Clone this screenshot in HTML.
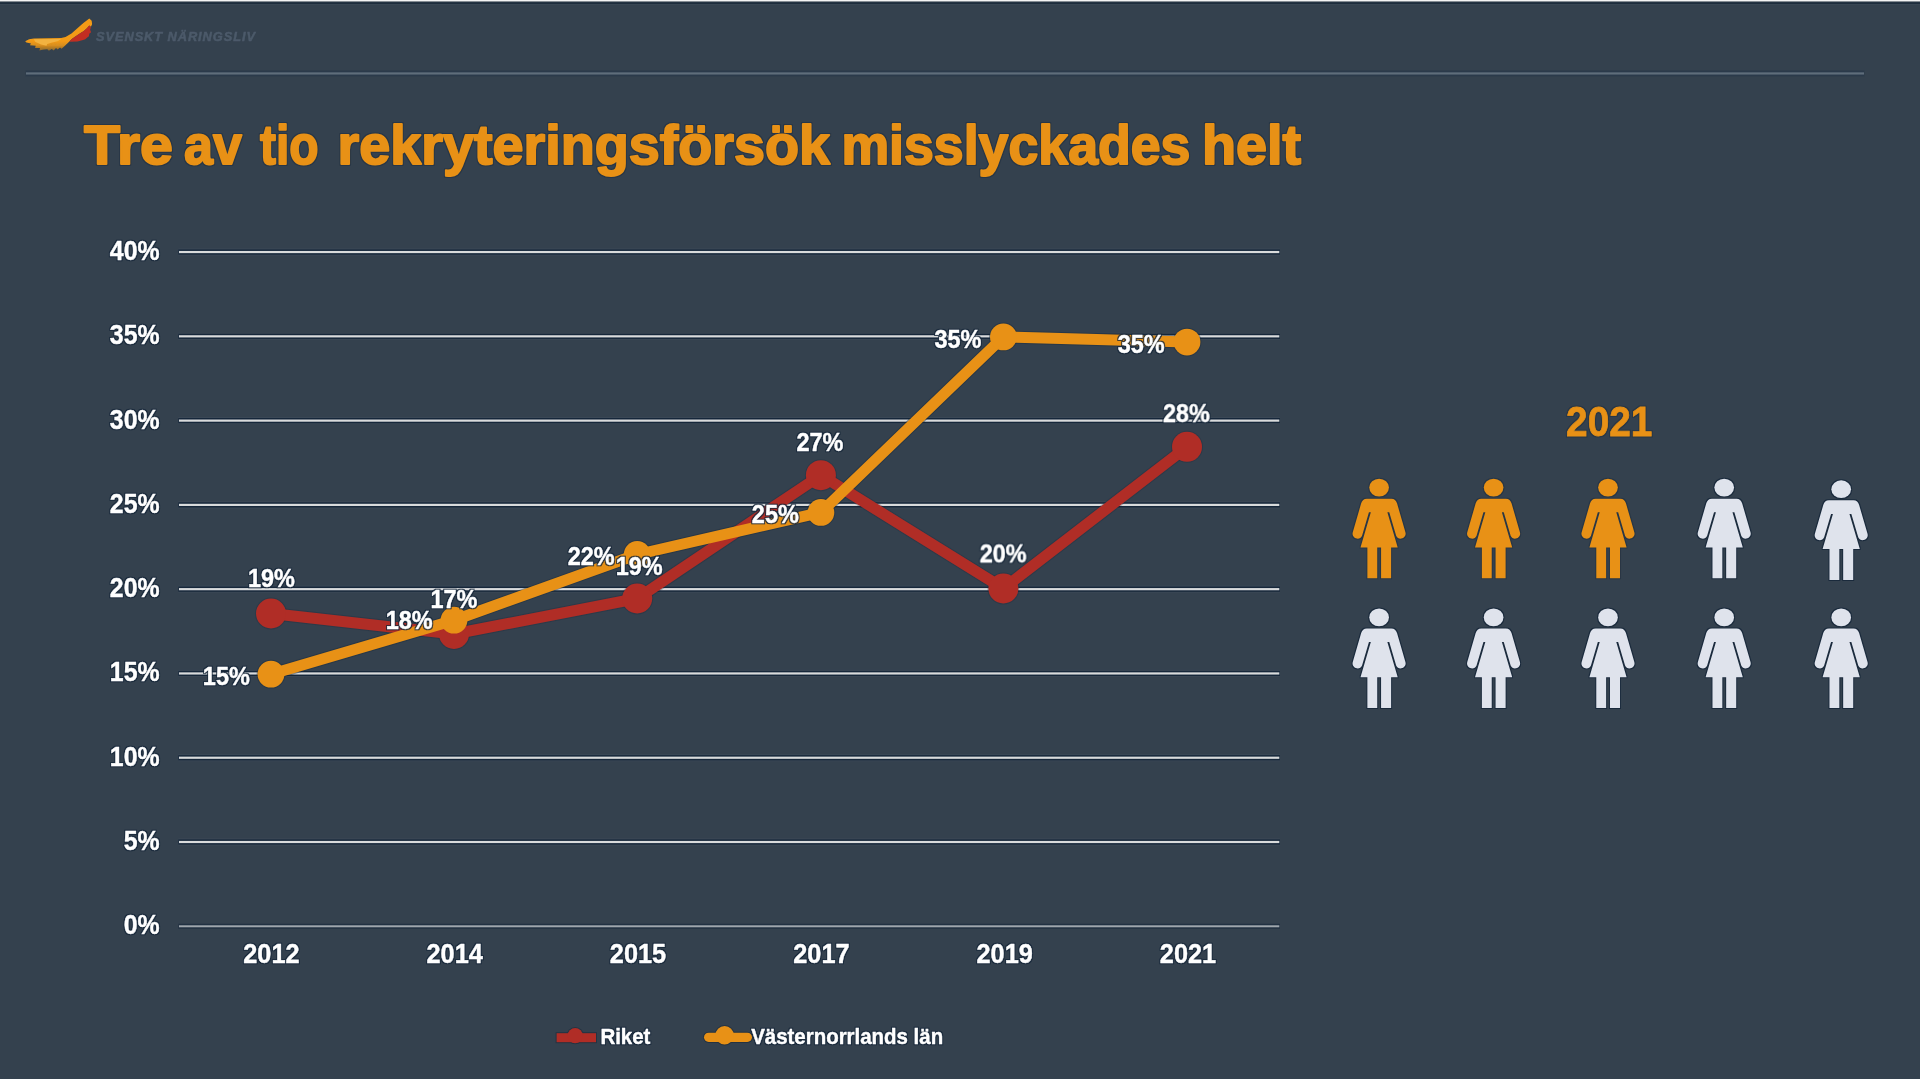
<!DOCTYPE html>
<html lang="sv">
<head>
<meta charset="utf-8">
<title>Tre av tio rekryteringsförsök misslyckades helt</title>
<style>
html,body{margin:0;padding:0;background:#34414e;}
body{width:1920px;height:1079px;overflow:hidden;position:relative;}
svg{position:absolute;left:0;top:0;display:block;will-change:transform;}
text{font-family:"Liberation Sans",Arial,Helvetica,sans-serif;font-weight:bold;}
</style>
</head>
<body>
<svg width="1920" height="1079" viewBox="0 0 1920 1079">
<rect x="0" y="0" width="1920" height="1079" fill="#34414e"/>
<!-- top edge -->
<rect x="0" y="0" width="1920" height="1.4" fill="#f4f4f4"/>
<rect x="0" y="1.4" width="1920" height="0.8" fill="#8a9097"/>
<rect x="0" y="2.2" width="1920" height="1.9" fill="#1e2d3d"/>
<rect x="0" y="4.1" width="1920" height="1" fill="#3a4755"/>

<defs>
<filter id="halo" x="-10%" y="-30%" width="120%" height="160%" color-interpolation-filters="sRGB">
<feMorphology in="SourceAlpha" operator="dilate" radius="1.1" result="d"/>
<feGaussianBlur in="d" stdDeviation="0.6" result="b"/>
<feFlood flood-color="#16273a" flood-opacity="0.85"/>
<feComposite in2="b" operator="in" result="h"/>
<feMerge><feMergeNode in="h"/><feMergeNode in="SourceGraphic"/></feMerge>
</filter>
<filter id="halo-mid" x="-10%" y="-30%" width="120%" height="160%" color-interpolation-filters="sRGB">
<feMorphology in="SourceAlpha" operator="dilate" radius="0.9" result="d"/>
<feGaussianBlur in="d" stdDeviation="0.5" result="b"/>
<feFlood flood-color="#1b2c3e" flood-opacity="0.5"/>
<feComposite in2="b" operator="in" result="h"/>
<feMerge><feMergeNode in="h"/><feMergeNode in="SourceGraphic"/></feMerge>
</filter>
<linearGradient id="wing" gradientUnits="userSpaceOnUse" x1="0" y1="41" x2="0" y2="51"><stop offset="0" stop-color="#f39b14"/><stop offset="0.45" stop-color="#f39b14" stop-opacity="0.85"/><stop offset="1" stop-color="#e8920f" stop-opacity="0.45"/></linearGradient>
<filter id="soft" x="-10%" y="-10%" width="120%" height="120%"><feGaussianBlur stdDeviation="0.55"/></filter>
</defs>
<!-- logo -->
<g id="logo" filter="url(#soft)">
<path d="M25.2 41.3 L29.1 39.3 L33.9 38.5 L61.2 38.1 L65.5 37.0 L71.5 33.4 L77.4 28.3 L83.4 23.1 L89.3 18.4 L91.7 20.7 L92.1 24.3 L90.9 26.7 L89.3 25.5 L86.9 28.3 L83.8 31.0 L79.4 33.8 L74.6 37.0 L71.5 39.3 L69.1 41.7 L65.5 45.3 L61.6 48.8 L60.0 47.4 L57.6 49.6 L56.0 48.1 L53.7 50.6 L51.7 48.9 L48.9 50.8 L47.3 49.3 L42.6 49.7 L39.4 50.4 L40.0 48.1 L35.1 48.0 L35.7 45.7 L29.9 45.3 L31.0 43.4 L26.4 42.6 Z" fill="url(#wing)"/>
<path d="M33.9 39.3 L61.2 38.9 L57.6 41.3 L52.1 42.5 L47.3 44.1 L46.5 45.7 L41.0 44.5 L35.1 41.7 Z" fill="#f2b23f"/>
<path d="M69.1 41.8 L71.5 39.3 L74.6 37.0 L79.4 33.8 L83.8 31.0 L86.9 28.3 L89.3 25.5 L90.9 27.5 L90.1 29.8 L91.1 32.2 L89.3 33.8 L88.9 36.2 L86.9 37.8 L85.3 39.3 L82.2 40.2 L77.4 41.4 Z" fill="#c22f22"/>
</g>
<text x="96" y="40.7" font-size="12.8" font-style="italic" fill="#4c5a6a" stroke="#4c5a6a" stroke-width="0.5" textLength="159" lengthAdjust="spacing">SVENSKT NÄRINGSLIV</text>

<!-- header rule -->
<rect x="25.6" y="70.5" width="1838.8" height="5.9" fill="#2b3a4b"/>
<rect x="26" y="72.35" width="1838" height="2.2" fill="#5f6d7b"/>

<g id="title" font-size="56.3" fill="#e89116" stroke="#e89116" stroke-width="2" stroke-linejoin="round" filter="url(#halo-mid)">
<text x="84.00" y="163.6" textLength="88.93" lengthAdjust="spacingAndGlyphs">Tre</text>
<text x="184.00" y="163.6" textLength="57.93" lengthAdjust="spacingAndGlyphs">av</text>
<text x="260.00" y="163.6" textLength="58.56" lengthAdjust="spacingAndGlyphs">tio</text>
<text x="337.50" y="163.6" textLength="492.62" lengthAdjust="spacingAndGlyphs">rekryteringsförsök</text>
<text x="841.40" y="163.6" textLength="349.05" lengthAdjust="spacingAndGlyphs">misslyckades</text>
<text x="1201.90" y="163.6" textLength="99.12" lengthAdjust="spacingAndGlyphs">helt</text>
</g>
<g id="grid">
<rect x="178.4" y="248.45" width="1101.5" height="7.2" fill="#3b4856"/>
<rect x="178.4" y="249.45" width="1101.5" height="5.2" fill="#16273a"/>
<rect x="179" y="250.95" width="1100.3" height="2.2" fill="#d9dbdc"/>
<rect x="178.4" y="332.73" width="1101.5" height="7.2" fill="#3b4856"/>
<rect x="178.4" y="333.73" width="1101.5" height="5.2" fill="#16273a"/>
<rect x="179" y="335.23" width="1100.3" height="2.2" fill="#d9dbdc"/>
<rect x="178.4" y="417.01" width="1101.5" height="7.2" fill="#3b4856"/>
<rect x="178.4" y="418.01" width="1101.5" height="5.2" fill="#16273a"/>
<rect x="179" y="419.51" width="1100.3" height="2.2" fill="#d9dbdc"/>
<rect x="178.4" y="501.29" width="1101.5" height="7.2" fill="#3b4856"/>
<rect x="178.4" y="502.29" width="1101.5" height="5.2" fill="#16273a"/>
<rect x="179" y="503.79" width="1100.3" height="2.2" fill="#d9dbdc"/>
<rect x="178.4" y="585.57" width="1101.5" height="7.2" fill="#3b4856"/>
<rect x="178.4" y="586.57" width="1101.5" height="5.2" fill="#16273a"/>
<rect x="179" y="588.07" width="1100.3" height="2.2" fill="#d9dbdc"/>
<rect x="178.4" y="669.85" width="1101.5" height="7.2" fill="#3b4856"/>
<rect x="178.4" y="670.85" width="1101.5" height="5.2" fill="#16273a"/>
<rect x="179" y="672.35" width="1100.3" height="2.2" fill="#d9dbdc"/>
<rect x="178.4" y="754.13" width="1101.5" height="7.2" fill="#3b4856"/>
<rect x="178.4" y="755.13" width="1101.5" height="5.2" fill="#16273a"/>
<rect x="179" y="756.63" width="1100.3" height="2.2" fill="#d9dbdc"/>
<rect x="178.4" y="838.41" width="1101.5" height="7.2" fill="#3b4856"/>
<rect x="178.4" y="839.41" width="1101.5" height="5.2" fill="#16273a"/>
<rect x="179" y="840.91" width="1100.3" height="2.2" fill="#d9dbdc"/>
<rect x="178.4" y="923.79" width="1101.5" height="5.0" fill="#16273a" opacity="0.6"/>
<rect x="179" y="925.29" width="1100.3" height="2.0" fill="#9fa6ad"/>
</g>
<g id="ylabels" font-size="27.4" fill="#ffffff" filter="url(#halo)" stroke="#ffffff" stroke-width="0.45">
<text transform="translate(159.6 259.9) scale(0.908 1)" text-anchor="end">40%</text>
<text transform="translate(159.6 344.2) scale(0.908 1)" text-anchor="end">35%</text>
<text transform="translate(159.6 428.5) scale(0.908 1)" text-anchor="end">30%</text>
<text transform="translate(159.6 512.8) scale(0.908 1)" text-anchor="end">25%</text>
<text transform="translate(159.6 597.1) scale(0.908 1)" text-anchor="end">20%</text>
<text transform="translate(159.6 681.4) scale(0.908 1)" text-anchor="end">15%</text>
<text transform="translate(159.6 765.6) scale(0.908 1)" text-anchor="end">10%</text>
<text transform="translate(159.6 849.9) scale(0.908 1)" text-anchor="end">5%</text>
<text transform="translate(159.6 934.2) scale(0.908 1)" text-anchor="end">0%</text>
</g>
<g id="xlabels" font-size="27.4" fill="#ffffff" filter="url(#halo)" stroke="#ffffff" stroke-width="0.45">
<text transform="translate(271.4 962.5) scale(0.925 1)" text-anchor="middle">2012</text>
<text transform="translate(454.7 962.5) scale(0.925 1)" text-anchor="middle">2014</text>
<text transform="translate(638.0 962.5) scale(0.925 1)" text-anchor="middle">2015</text>
<text transform="translate(821.4 962.5) scale(0.925 1)" text-anchor="middle">2017</text>
<text transform="translate(1004.7 962.5) scale(0.925 1)" text-anchor="middle">2019</text>
<text transform="translate(1188.0 962.5) scale(0.925 1)" text-anchor="middle">2021</text>
</g>
<g id="series-halo" fill="#1b2c3e" stroke="#1b2c3e">
<polyline points="271.0,613.5 454.0,634.0 637.2,598.5 820.9,475.2 1003.4,588.5 1187.0,446.8" fill="none" stroke-width="13" stroke-linejoin="round" stroke-linecap="round" opacity="0.3"/>
<circle cx="271.0" cy="613.5" r="16" stroke="none" opacity="0.3"/>
<circle cx="454.0" cy="634.0" r="16" stroke="none" opacity="0.3"/>
<circle cx="637.2" cy="598.5" r="16" stroke="none" opacity="0.3"/>
<circle cx="820.9" cy="475.2" r="16" stroke="none" opacity="0.3"/>
<circle cx="1003.4" cy="588.5" r="16" stroke="none" opacity="0.3"/>
<circle cx="1187.0" cy="446.8" r="16" stroke="none" opacity="0.3"/>
<polyline points="271.0,674.2 454.0,620.2 637.2,554.5 820.9,512.4 1003.4,336.9 1187.0,342.1" fill="none" stroke-width="13" stroke-linejoin="round" stroke-linecap="round" opacity="0.45"/>
<circle cx="271.0" cy="674.2" r="14.4" stroke="none" opacity="0.45"/>
<circle cx="454.0" cy="620.2" r="14.4" stroke="none" opacity="0.45"/>
<circle cx="637.2" cy="554.5" r="14.4" stroke="none" opacity="0.45"/>
<circle cx="820.9" cy="512.4" r="14.4" stroke="none" opacity="0.45"/>
<circle cx="1003.4" cy="336.9" r="14.4" stroke="none" opacity="0.45"/>
<circle cx="1187.0" cy="342.1" r="14.4" stroke="none" opacity="0.45"/>
</g>
<g id="series-riket">
<polyline points="271.0,613.5 454.0,634.0 637.2,598.5 820.9,475.2 1003.4,588.5 1187.0,446.8" fill="none" stroke="#b02d26" stroke-width="11" stroke-linejoin="round" stroke-linecap="round"/>
<circle cx="271.0" cy="613.5" r="15" fill="#b02d26"/>
<circle cx="454.0" cy="634.0" r="15" fill="#b02d26"/>
<circle cx="637.2" cy="598.5" r="15" fill="#b02d26"/>
<circle cx="820.9" cy="475.2" r="15" fill="#b02d26"/>
<circle cx="1003.4" cy="588.5" r="15" fill="#b02d26"/>
<circle cx="1187.0" cy="446.8" r="15" fill="#b02d26"/>
</g>
<g id="series-vasternorrland">
<polyline points="271.0,674.2 454.0,620.2 637.2,554.5 820.9,512.4 1003.4,336.9 1187.0,342.1" fill="none" stroke="#e89116" stroke-width="11" stroke-linejoin="round" stroke-linecap="round"/>
<circle cx="271.0" cy="674.2" r="13.4" fill="#e89116"/>
<circle cx="454.0" cy="620.2" r="13.4" fill="#e89116"/>
<circle cx="637.2" cy="554.5" r="13.4" fill="#e89116"/>
<circle cx="820.9" cy="512.4" r="13.4" fill="#e89116"/>
<circle cx="1003.4" cy="336.9" r="13.4" fill="#e89116"/>
<circle cx="1187.0" cy="342.1" r="13.4" fill="#e89116"/>
</g>
<g id="datalabels" font-size="25.1" fill="#ffffff" filter="url(#halo)" stroke="#ffffff" stroke-width="0.45">
<text transform="translate(271.5 586.9) scale(0.935 1)" text-anchor="middle">19%</text>
<text transform="translate(226.3 684.9) scale(0.935 1)" text-anchor="middle">15%</text>
<text transform="translate(409.2 629.4) scale(0.935 1)" text-anchor="middle">18%</text>
<text transform="translate(453.9 607.9) scale(0.935 1)" text-anchor="middle">17%</text>
<text transform="translate(591.2 564.8) scale(0.935 1)" text-anchor="middle">22%</text>
<text transform="translate(639.1 574.5) scale(0.935 1)" text-anchor="middle">19%</text>
<text transform="translate(820.0 451.1) scale(0.935 1)" text-anchor="middle">27%</text>
<text transform="translate(775.3 523.4) scale(0.935 1)" text-anchor="middle">25%</text>
<text transform="translate(958.0 347.7) scale(0.935 1)" text-anchor="middle">35%</text>
<text transform="translate(1003.1 562.4) scale(0.935 1)" text-anchor="middle">20%</text>
<text transform="translate(1141.2 352.7) scale(0.935 1)" text-anchor="middle">35%</text>
<text transform="translate(1186.4 422.1) scale(0.935 1)" text-anchor="middle">28%</text>
</g>
<g id="legend">
<g fill="#1b2a3b" stroke="#1b2a3b" opacity="0.6">
<rect x="555.6" y="1032.2" width="41.4" height="11" stroke="none"/>
<circle cx="575.2" cy="1035.6" r="8.6" stroke="none"/>
<line x1="708.6" y1="1037.3" x2="747.4" y2="1037.3" stroke-width="11.2" stroke-linecap="round"/>
<circle cx="724.6" cy="1035.2" r="10.2" stroke="none"/>
</g>
<rect x="556.6" y="1033.2" width="39.4" height="9" fill="#b02d26"/>
<circle cx="575.2" cy="1035.6" r="7.6" fill="#b02d26"/>
<line x1="708.6" y1="1037.3" x2="747.4" y2="1037.3" stroke="#e89116" stroke-width="9.2" stroke-linecap="round"/>
<circle cx="724.6" cy="1035.2" r="9.2" fill="#e89116"/>
<g font-size="21.6" fill="#ffffff" filter="url(#halo)" stroke="#ffffff" stroke-width="0.45">
<text transform="translate(600.4 1043.5) scale(0.947 1)">Riket</text>
<text transform="translate(751.2 1043.5) scale(0.947 1)">Västernorrlands län</text>
</g>
</g>

<text transform="translate(1609.2 435.9) scale(0.915 1)" font-size="42.4" fill="#e89116" stroke="#e89116" stroke-width="0.8" text-anchor="middle" filter="url(#halo-mid)">2021</text>
<symbol id="woman" overflow="visible"><g transform="scale(0.985 1)"><ellipse cx="0" cy="8.9" rx="10" ry="8.9"/><path d="M-12.5 20 L12.5 20 C15.5 20 17.3 21.8 18.2 24.6 L26.8 53.8 C28.2 59.6 19.6 62.6 17.3 57 L10.3 33.6 L8.4 33.6 L18.9 68.7 L12.2 68.7 L12.2 99.6 L2 99.6 L2 68.7 L-1.9 68.7 L-1.9 99.6 L-11.9 99.6 L-11.9 68.7 L-18.9 68.7 L-8.4 33.6 L-10.3 33.6 L-17.3 57 C-19.6 62.6 -28.2 59.6 -26.8 53.8 L-18.2 24.6 C-17.3 21.8 -15.5 20 -12.5 20 Z"/></g></symbol>
<g id="pictogram">
<g filter="url(#halo-mid)">
<use href="#woman" x="1379.1" y="478.7" fill="#e89116"/>
<use href="#woman" x="1493.6" y="478.7" fill="#e89116"/>
<use href="#woman" x="1608.0" y="478.7" fill="#e89116"/>
</g>
<g filter="url(#halo)">
<use href="#woman" x="1724.2" y="478.7" fill="#dfe3ec"/>
<use href="#woman" x="1841.2" y="480.3" fill="#dfe3ec"/>
<use href="#woman" x="1379.1" y="608.5" fill="#dfe3ec"/>
<use href="#woman" x="1493.6" y="608.5" fill="#dfe3ec"/>
<use href="#woman" x="1608.0" y="608.5" fill="#dfe3ec"/>
<use href="#woman" x="1724.2" y="608.5" fill="#dfe3ec"/>
<use href="#woman" x="1841.2" y="608.5" fill="#dfe3ec"/>
</g>
</g>
</svg>
</body>
</html>
